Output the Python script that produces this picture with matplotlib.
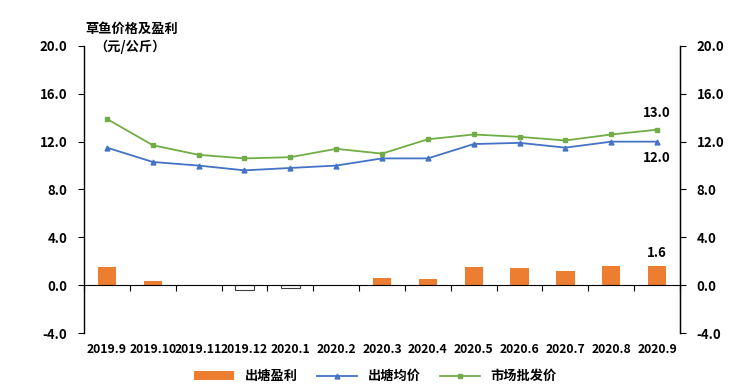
import matplotlib
matplotlib.use('Agg')
import matplotlib.pyplot as plt
import matplotlib.transforms as mtransforms
import numpy as np

plt.rcParams['font.family'] = ['Noto Sans CJK SC', 'DejaVu Sans']
plt.rcParams['font.weight'] = 'bold'

# data
months = ['2019.9', '2019.10', '2019.11', '2019.12', '2020.1', '2020.2', '2020.3',
          '2020.4', '2020.5', '2020.6', '2020.7', '2020.8', '2020.9']
profit = [1.5, 0.35, 0.0, -0.4, -0.2, 0.0, 0.6, 0.5, 1.5, 1.4, 1.2, 1.6, 1.6]
pond_price = [11.5, 10.3, 10.0, 9.6, 9.8, 10.0, 10.6, 10.6, 11.8, 11.9, 11.5, 12.0, 12.0]
market_price = [13.9, 11.7, 10.9, 10.6, 10.7, 11.4, 11.0, 12.2, 12.6, 12.4, 12.1, 12.6, 13.0]
yticks = [-4, 0, 4, 8, 12, 16, 20]

orange = '#ED7D31'
blue = '#4472C4'
green = '#70AD47'

fig = plt.figure(figsize=(7.51, 3.92), dpi=100)
ax = fig.add_axes([0.1119, 0.1505, 0.7936, 0.7322])

x = np.arange(len(months))
# negative profit bars are drawn hollow, like the Excel "invert if negative" look
bar_colors = [orange if v >= 0 else 'white' for v in profit]
edge_colors = ['none' if v >= 0 else '#404040' for v in profit]
bars = ax.bar(x, profit, width=0.4, color=bar_colors, edgecolor=edge_colors, linewidth=0.8,
              label='出塘盈利', zorder=2)
l1, = ax.plot(x, pond_price, color=blue, marker='^', markersize=3.5, linewidth=1.3,
              label='出塘均价', zorder=3)
l2, = ax.plot(x, market_price, color=green, marker='s', markersize=3.5, linewidth=1.3,
              label='市场批发价', zorder=3)

ax.set_xlim(-0.5, len(months) - 0.5)
ax.set_ylim(-4, 20)
ax.set_yticks(yticks)
ax.set_yticklabels([f'{v:.1f}' for v in yticks], fontsize=9.5, fontweight='bold')

# right axis mirrors the left
ax2 = ax.twinx()
ax2.set_ylim(-4, 20)
ax2.set_yticks(yticks)
ax2.set_yticklabels([f'{v:.1f}' for v in yticks], fontsize=9.5, fontweight='bold')

for a in (ax, ax2):
    a.spines['top'].set_visible(False)
    a.tick_params(axis='y', length=4, width=0.8, pad=8)
ax.spines['bottom'].set_position(('data', 0))
ax2.spines['bottom'].set_visible(False)
ax2.spines['left'].set_visible(False)
ax.spines['left'].set_linewidth(1.0)
ax2.spines['right'].set_linewidth(1.0)

# category boundary ticks on the zero line, labels at the bottom
ax.set_xticks(np.arange(len(months) + 1) - 0.5)
ax.set_xticklabels([])
ax.tick_params(axis='x', length=4, width=0.8, direction='out')
trans = mtransforms.blended_transform_factory(ax.transData, ax.transAxes)
for i, m in enumerate(months):
    ax.text(i, -0.035, m, transform=trans, ha='center', va='top',
            fontsize=8.8, fontweight='bold')

# end-value labels
ax.annotate(f'{market_price[-1]:.1f}', (x[-1], market_price[-1]), xytext=(0, 7),
            textcoords='offset points', ha='center', va='bottom', fontsize=9.5)
ax.annotate(f'{pond_price[-1]:.1f}', (x[-1], pond_price[-1]), xytext=(0, -7),
            textcoords='offset points', ha='center', va='top', fontsize=9.5)
ax.annotate(f'{profit[-1]:.1f}', (x[-1], profit[-1]), xytext=(0, 4),
            textcoords='offset points', ha='center', va='bottom', fontsize=9.5)

fig.text(0.113, 0.945, '草鱼价格及盈利', ha='left', va='top', fontsize=9.5, fontweight='bold')
fig.text(0.125, 0.9, '（元/公斤）', ha='left', va='top', fontsize=9.5, fontweight='bold')

fig.legend([bars, l1, l2], ['出塘盈利', '出塘均价', '市场批发价'], loc='center',
           bbox_to_anchor=(0.5, 0.04), ncol=3, frameon=False,
           fontsize=9.5, handlelength=3, columnspacing=1.5)

fig.savefig('out.png', dpi=100)
